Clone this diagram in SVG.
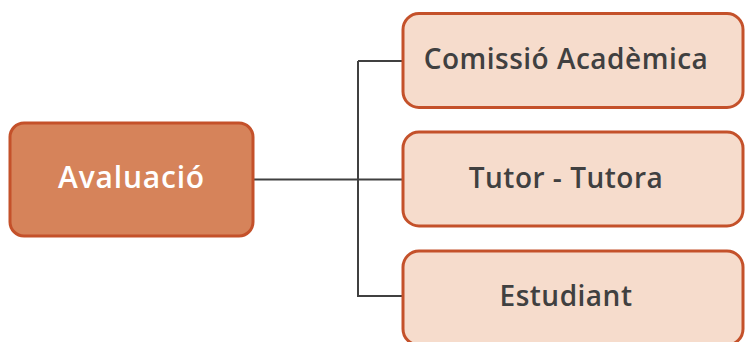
<svg xmlns="http://www.w3.org/2000/svg" width="745" height="342" viewBox="0 0 745 342">
<style>
.main{fill:#D6835A;stroke:#C4512A;stroke-width:3}
.sub{fill:#F6DCCC;stroke:#C4512A;stroke-width:3}
.t{font-family:"Open Sans","Noto Sans",sans-serif;font-weight:600;font-size:28px;letter-spacing:0.5px;text-anchor:middle}
.tw{fill:#FFFFFF;font-size:30px;letter-spacing:0.8px}
.td{fill:#404040}
.c{fill:none;stroke:#404040;stroke-width:2}
</style>
<g id="connectors">
<path class="c" d="M253 179.5H358M358 61H403M358 61V296H403M358 179.5H403"/>
</g>
<g id="avaluacio">
<rect class="main" x="10" y="123" width="243" height="113" rx="14"/>
<text class="t tw" x="131.5" y="188">Avaluació</text>
</g>
<g id="comissio">
<rect class="sub" x="403" y="13.5" width="340" height="94" rx="16"/>
<text class="t td" x="566" y="68.5">Comissió Acadèmica</text>
</g>
<g id="tutor">
<rect class="sub" x="403" y="132" width="340" height="94" rx="16"/>
<text class="t td" x="566" y="188.3">Tutor - Tutora</text>
</g>
<g id="estudiant">
<rect class="sub" x="403" y="251" width="340" height="94" rx="16"/>
<text class="t td" x="566" y="306">Estudiant</text>
</g>
</svg>
